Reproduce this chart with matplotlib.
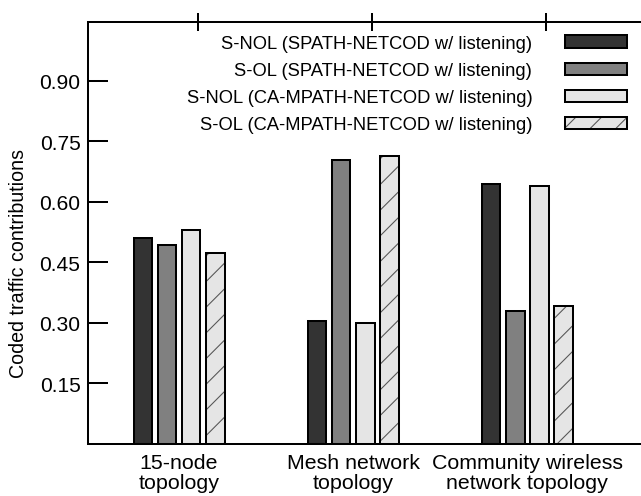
import numpy as np
import matplotlib
matplotlib.use("Agg")
import matplotlib.pyplot as plt

plt.rcParams['font.family'] = ['Liberation Sans', 'DejaVu Sans']
plt.rcParams['hatch.linewidth'] = 0.5

# coded traffic contributions per topology
topologies = ['15-node\ntopology', 'Mesh network\ntopology',
              'Community wireless\nnetwork topology']
s_nol_spath = [0.510, 0.304, 0.644]
s_ol_spath = [0.492, 0.703, 0.328]
s_nol_ca = [0.529, 0.299, 0.638]
s_ol_ca = [0.473, 0.714, 0.341]

labels = ['S-NOL (SPATH-NETCOD w/ listening)',
          'S-OL (SPATH-NETCOD w/ listening)',
          'S-NOL (CA-MPATH-NETCOD w/ listening)',
          'S-OL (CA-MPATH-NETCOD w/ listening)']
yticks = [0.15, 0.30, 0.45, 0.60, 0.75, 0.90]

DPI = 154
fig = plt.figure(figsize=(641 / DPI, 497 / DPI), dpi=DPI)
ax = fig.add_axes([88 / 641, 1 - 444.5 / 497, 1 - 88 / 641, (444.5 - 23.3) / 497])

lw = 0.94
x = np.arange(len(topologies))
w = 0.109
step = 0.138

h1 = ax.bar(x - 1.5 * step, s_nol_spath, w, color='#333333', edgecolor='black', linewidth=lw)
h2 = ax.bar(x - 0.5 * step, s_ol_spath, w, color='#808080', edgecolor='black', linewidth=lw)
h3 = ax.bar(x + 0.5 * step, s_nol_ca, w, color='#e5e5e5', edgecolor='black', linewidth=lw)
# hatched bars: grey hatch underneath, black outline on top
h4a = ax.bar(x + 1.5 * step, s_ol_ca, w, color='#e5e5e5', edgecolor='#555555',
             hatch='//', linewidth=0)
h4b = ax.bar(x + 1.5 * step, s_ol_ca, w, facecolor='none', edgecolor='black', linewidth=lw)

ax.set_xlim(-0.523, 2.655)
ax.set_ylim(0, 1.0446)

ax.set_xticks(x)
ax.set_xticklabels(topologies, fontsize=10.0, linespacing=1.1)
ax.set_xticks(x + 0.11, minor=True)
ax.tick_params(axis='x', which='major', bottom=False, top=False, pad=0.8)
ax.tick_params(axis='x', which='minor', bottom=False, top=True, direction='inout',
               length=8.4, width=lw)

ax.set_yticks(yticks)
ax.set_yticklabels(['%.2f' % v for v in yticks], fontsize=9.8)
ax.tick_params(axis='y', direction='in', length=9.3, width=lw, pad=3.5, right=False)

for side in ['left', 'top', 'bottom']:
    ax.spines[side].set_linewidth(lw)
ax.spines['right'].set_visible(False)

ax.set_ylabel('Coded traffic contributions', fontsize=9.2)
ax.yaxis.set_label_coords(-0.108, 0.43)

leg = ax.legend([h1, h2, h3, (h4a, h4b)], labels, loc='upper right',
                bbox_to_anchor=(627 / 641, 1 - 36 / 497), bbox_transform=fig.transFigure,
                frameon=False, markerfirst=False, fontsize=8.6, borderpad=0,
                borderaxespad=0, handlelength=3.35, handleheight=0.65,
                labelspacing=0.55, handletextpad=1.8)

fig.savefig('out.png', dpi=DPI)
